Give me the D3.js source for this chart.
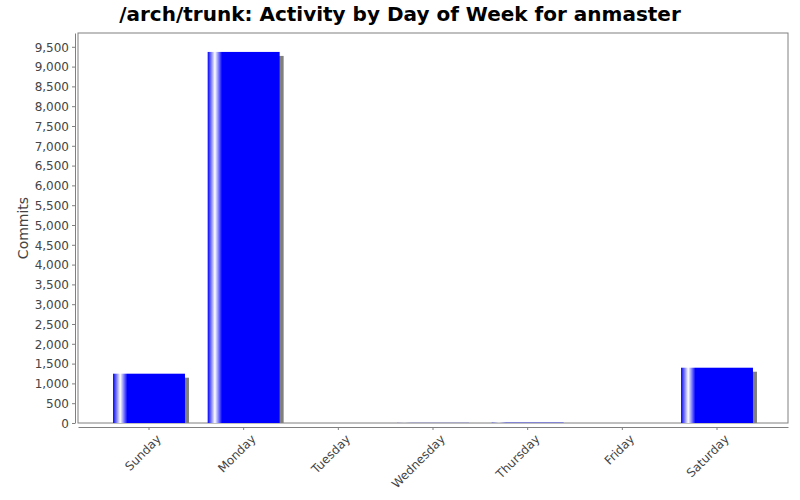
<!DOCTYPE html>
<html>
<head>
<meta charset="utf-8">
<script src="https://cdn.jsdelivr.net/npm/d3@7"></script>
<style>
  body { margin: 0; background: #fff; }
  text { font-family: "DejaVu Sans", sans-serif; }
  .axis text { fill: #444; font-size: 12px; }
  .axis path, .axis line { stroke: #808080; }
</style>
</head>
<body>
<svg width="800" height="500"></svg>
<script>
// chart data
var days = ["Sunday", "Monday", "Tuesday", "Wednesday", "Thursday", "Friday", "Saturday"];
var commits = [1245, 9370, 0, 3, 8, 0, 1396];
var yTicks = [0, 500, 1000, 1500, 2000, 2500, 3000, 3500, 4000, 4500, 5000,
              5500, 6000, 6500, 7000, 7500, 8000, 8500, 9000, 9500];

var svg = d3.select("svg"),
    margin = {top: 33, right: 12, bottom: 77, left: 78},
    width = 800 - margin.left - margin.right,
    height = 500 - margin.top - margin.bottom;

var x = d3.scaleBand().domain(days).range([0, width])
    .paddingInner(0.24).paddingOuter(0.37);
var y = d3.scaleLinear().domain([0, 9848]).range([height, 0]);

// bar gradient, white streak near the left edge
var grad = svg.append("defs").append("linearGradient")
    .attr("id", "barGrad").attr("x1", "0%").attr("x2", "100%");
grad.append("stop").attr("offset", "0%").attr("stop-color", "#0000ff");
grad.append("stop").attr("offset", "10%").attr("stop-color", "#ffffff");
grad.append("stop").attr("offset", "20%").attr("stop-color", "#0000ff");
grad.append("stop").attr("offset", "100%").attr("stop-color", "#0000ff");

svg.select("defs").append("clipPath").attr("id", "plotClip")
  .append("rect").attr("width", width).attr("height", height);

// title
svg.append("text")
    .attr("x", 400).attr("y", 21)
    .attr("text-anchor", "middle")
    .style("font-size", "20px").style("font-weight", "bold")
    .text("/arch/trunk: Activity by Day of Week for anmaster");

var g = svg.append("g")
    .attr("transform", "translate(" + margin.left + "," + margin.top + ")");

// plot outline
g.append("rect")
    .attr("width", width).attr("height", height)
    .attr("fill", "none").attr("stroke", "#808080");

var bars = g.append("g").attr("clip-path", "url(#plotClip)");

// shadows
bars.selectAll(".shadow")
  .data(days)
  .enter().append("rect")
    .attr("fill", "#808080")
    .attr("x", function(d) { return x(d) + 4; })
    .attr("y", function(d, i) { return y(commits[i]) + 4; })
    .attr("width", x.bandwidth())
    .attr("height", function(d, i) { return Math.max(0, height - y(commits[i])); });

bars.selectAll(".bar")
  .data(days)
  .enter().append("rect")
    .attr("class", "bar")
    .attr("fill", "url(#barGrad)")
    .attr("x", function(d) { return x(d); })
    .attr("y", function(d, i) { return y(commits[i]); })
    .attr("width", x.bandwidth())
    .attr("height", function(d, i) { return height - y(commits[i]); });

// y axis
g.append("g")
    .attr("class", "axis")
    .attr("transform", "translate(-3,0)")
    .call(d3.axisLeft(y).tickValues(yTicks).tickSizeInner(3).tickSizeOuter(0)
      .tickFormat(d3.format(",")))
    .call(function(a) { a.selectAll("text").attr("dy", "0.36em"); });

// x axis
var xa = g.append("g")
    .attr("class", "axis")
    .attr("transform", "translate(0," + (height + 4) + ")")
    .call(d3.axisBottom(x).tickSizeInner(3).tickSizeOuter(0));
xa.selectAll("text")
    .attr("text-anchor", "end")
    .attr("transform", "translate(5,5) rotate(-45)")
    .attr("y", 5).attr("dy", "0.5em");

// y label
svg.append("text")
    .attr("transform", "translate(28," + (margin.top + height / 2) + ") rotate(-90)")
    .attr("text-anchor", "middle")
    .style("font-size", "14px").style("fill", "#444")
    .text("Commits");
</script>
</body>
</html>
